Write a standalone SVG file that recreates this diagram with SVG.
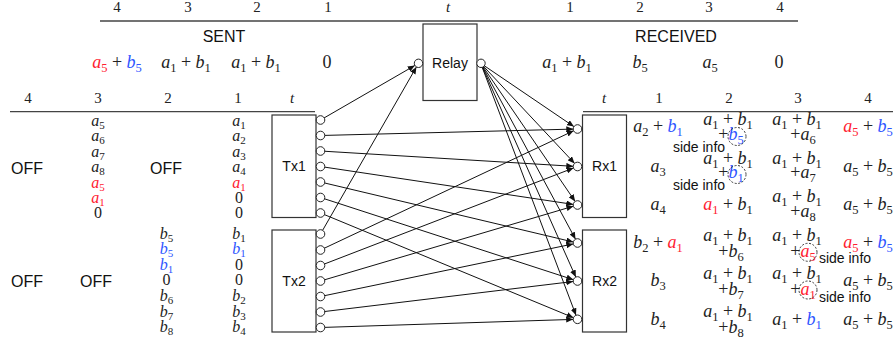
<svg xmlns="http://www.w3.org/2000/svg" width="896" height="345" viewBox="0 0 896 345">
<style>
.m{font-family:"Liberation Serif",serif;font-size:18px;fill:#222;text-anchor:middle}
.ml{font-family:"Liberation Serif",serif;font-size:16px;fill:#222;text-anchor:middle}
.h{font-family:"Liberation Serif",serif;font-size:15px;fill:#222;text-anchor:middle}
.i{font-style:italic}
.s{font-size:12.5px;font-style:normal}
.sl{font-size:11px;font-style:normal}
.r{fill:#ff2030}
.b{fill:#2d55ff}
.lbl{font-family:"Liberation Sans",sans-serif;font-size:14px;fill:#111;text-anchor:middle}
.big{font-family:"Liberation Sans",sans-serif;font-size:16px;fill:#111;text-anchor:middle}
.box{fill:#fff;stroke:#333;stroke-width:1.2}
.port{fill:#fff;stroke:#222;stroke-width:1}
.rule{stroke:#444;stroke-width:1.3}
.con{stroke:#111;stroke-width:1;fill:none;marker-end:url(#arr)}
.dc{fill:none;stroke:#222;stroke-width:0.9;stroke-dasharray:2 1.6}
</style>
<defs>
<marker id="arr" markerUnits="userSpaceOnUse" markerWidth="7" markerHeight="6" refX="7" refY="3" orient="auto">
<path d="M0,0 L7,3 L0,6 z" fill="#111"/>
</marker>
</defs>

<!-- rules -->
<line class="rule" x1="100" y1="21" x2="798" y2="21"/>
<line class="rule" x1="10" y1="111.7" x2="315" y2="111.7"/>
<line class="rule" x1="583" y1="111.7" x2="893" y2="111.7"/>

<!-- top header -->
<g id="header-top">
<text class="h" x="117" y="12">4</text>
<text class="h" x="188" y="12">3</text>
<text class="h" x="257" y="12">2</text>
<text class="h" x="328" y="12">1</text>
<text class="h i" x="448" y="12">t</text>
<text class="h" x="570" y="12">1</text>
<text class="h" x="640" y="12">2</text>
<text class="h" x="709" y="12">3</text>
<text class="h" x="780" y="12">4</text>
</g>
<g id="header-2">
<text class="h" x="28" y="103">4</text>
<text class="h" x="98" y="103">3</text>
<text class="h" x="168" y="103">2</text>
<text class="h" x="238" y="103">1</text>
<text class="h i" x="292" y="103">t</text>
<text class="h i" x="604" y="103">t</text>
<text class="h" x="659" y="103">1</text>
<text class="h" x="729" y="103">2</text>
<text class="h" x="798" y="103">3</text>
<text class="h" x="868" y="103">4</text>
</g>

<g id="sent">
<text class="big" x="224" y="42">SENT</text>
<text class="m" x="117" y="67.5"><tspan class="i r">a</tspan><tspan class="s r" dy="4">5</tspan><tspan dy="-4"> + </tspan><tspan class="i b">b</tspan><tspan class="s b" dy="4">5</tspan></text>
<text class="m" x="186" y="67.5"><tspan class="i">a</tspan><tspan class="s" dy="4">1</tspan><tspan dy="-4"> + </tspan><tspan class="i">b</tspan><tspan class="s" dy="4">1</tspan></text>
<text class="m" x="256" y="67.5"><tspan class="i">a</tspan><tspan class="s" dy="4">1</tspan><tspan dy="-4"> + </tspan><tspan class="i">b</tspan><tspan class="s" dy="4">1</tspan></text>
<text class="m" x="327" y="67.5">0</text>
</g>
<g id="received">
<text class="big" x="676" y="42">RECEIVED</text>
<text class="m" x="567" y="67.5"><tspan class="i">a</tspan><tspan class="s" dy="4">1</tspan><tspan dy="-4"> + </tspan><tspan class="i">b</tspan><tspan class="s" dy="4">1</tspan></text>
<text class="m" x="640" y="67.5"><tspan class="i">b</tspan><tspan class="s" dy="4">5</tspan></text>
<text class="m" x="710" y="67.5"><tspan class="i">a</tspan><tspan class="s" dy="4">5</tspan></text>
<text class="m" x="779" y="67.5">0</text>
</g>

<!-- left lists Tx1 -->
<g id="tx1-list">
<text class="big" x="27" y="174">OFF</text>
<text class="big" x="166" y="174">OFF</text>
<text class="ml" x="98" y="126"><tspan class="i">a</tspan><tspan class="sl" dy="3">5</tspan></text>
<text class="ml" x="98" y="141.4"><tspan class="i">a</tspan><tspan class="sl" dy="3">6</tspan></text>
<text class="ml" x="98" y="156.8"><tspan class="i">a</tspan><tspan class="sl" dy="3">7</tspan></text>
<text class="ml" x="98" y="172.2"><tspan class="i">a</tspan><tspan class="sl" dy="3">8</tspan></text>
<text class="ml" x="98" y="187.6"><tspan class="i r">a</tspan><tspan class="sl r" dy="3">5</tspan></text>
<text class="ml" x="98" y="203"><tspan class="i r">a</tspan><tspan class="sl r" dy="3">1</tspan></text>
<text class="ml" x="98" y="218.4">0</text>
<text class="ml" x="239" y="126"><tspan class="i">a</tspan><tspan class="sl" dy="3">1</tspan></text>
<text class="ml" x="239" y="141.4"><tspan class="i">a</tspan><tspan class="sl" dy="3">2</tspan></text>
<text class="ml" x="239" y="156.8"><tspan class="i">a</tspan><tspan class="sl" dy="3">3</tspan></text>
<text class="ml" x="239" y="172.2"><tspan class="i">a</tspan><tspan class="sl" dy="3">4</tspan></text>
<text class="ml" x="239" y="187.6"><tspan class="i r">a</tspan><tspan class="sl r" dy="3">1</tspan></text>
<text class="ml" x="239" y="203">0</text>
<text class="ml" x="239" y="218.4">0</text>
</g>
<g id="tx2-list">
<text class="big" x="27" y="287.3">OFF</text>
<text class="big" x="96" y="287.3">OFF</text>
<text class="ml" x="166.5" y="238.5"><tspan class="i">b</tspan><tspan class="sl" dy="3">5</tspan></text>
<text class="ml" x="166.5" y="254.1"><tspan class="i b">b</tspan><tspan class="sl b" dy="3">5</tspan></text>
<text class="ml" x="166.5" y="269.7"><tspan class="i b">b</tspan><tspan class="sl b" dy="3">1</tspan></text>
<text class="ml" x="166.5" y="285.3">0</text>
<text class="ml" x="166.5" y="300.9"><tspan class="i">b</tspan><tspan class="sl" dy="3">6</tspan></text>
<text class="ml" x="166.5" y="316.5"><tspan class="i">b</tspan><tspan class="sl" dy="3">7</tspan></text>
<text class="ml" x="166.5" y="332.1"><tspan class="i">b</tspan><tspan class="sl" dy="3">8</tspan></text>
<text class="ml" x="239" y="238.5"><tspan class="i">b</tspan><tspan class="sl" dy="3">1</tspan></text>
<text class="ml" x="239" y="254.1"><tspan class="i b">b</tspan><tspan class="sl b" dy="3">1</tspan></text>
<text class="ml" x="239" y="269.7">0</text>
<text class="ml" x="239" y="285.3">0</text>
<text class="ml" x="239" y="300.9"><tspan class="i">b</tspan><tspan class="sl" dy="3">2</tspan></text>
<text class="ml" x="239" y="316.5"><tspan class="i">b</tspan><tspan class="sl" dy="3">3</tspan></text>
<text class="ml" x="239" y="332.1"><tspan class="i">b</tspan><tspan class="sl" dy="3">4</tspan></text>
</g>

<!-- connectors -->
<g id="connectors">
<path class="con" d="M320.5,120 L414.8,65.5"/>
<path class="con" d="M320.5,234 L416.4,67"/>
<path class="con" d="M480.7,63.3 L573.9,126.6"/>
<path class="con" d="M480.7,63.3 L574.6,163.4"/>
<path class="con" d="M480.7,63.3 L575.1,201.4"/>
<path class="con" d="M480.7,63.3 L575.5,239.2"/>
<path class="con" d="M480.7,63.3 L575.8,277.1"/>
<path class="con" d="M480.7,63.3 L576,315.3"/>
<path class="con" d="M320.5,135.5 L573.3,129.1"/>
<path class="con" d="M320.5,151 L573.3,166.3"/>
<path class="con" d="M320.5,166.5 L573.25,204.4"/>
<path class="con" d="M320.5,182 L573.3,242"/>
<path class="con" d="M320.5,197.5 L573.4,279.7"/>
<path class="con" d="M320.5,213 L573.5,317.7"/>
<path class="con" d="M320.5,250 L573.6,130.8"/>
<path class="con" d="M320.5,265.5 L573.5,168"/>
<path class="con" d="M320.5,281 L573.4,206.2"/>
<path class="con" d="M320.5,296.5 L573.3,243.9"/>
<path class="con" d="M320.5,312 L573.2,281.5"/>
<path class="con" d="M320.5,327.5 L573.2,319.4"/>
</g>

<!-- nodes -->
<g id="relay">
<rect class="box" x="423" y="24" width="54" height="76.5"/>
<text class="lbl" x="450" y="68">Relay</text>
<circle class="port" cx="418.5" cy="63.3" r="4.2"/>
<circle class="port" cx="481" cy="63.3" r="4.2"/>
</g>
<g id="tx1">
<rect class="box" x="272" y="115" width="44" height="102.5"/>
<text class="lbl" x="294" y="171">Tx1</text>
<circle class="port" cx="320.5" cy="120" r="4.3"/>
<circle class="port" cx="320.5" cy="135.5" r="4.3"/>
<circle class="port" cx="320.5" cy="151" r="4.3"/>
<circle class="port" cx="320.5" cy="166.5" r="4.3"/>
<circle class="port" cx="320.5" cy="182" r="4.3"/>
<circle class="port" cx="320.5" cy="197.5" r="4.3"/>
<circle class="port" cx="320.5" cy="213" r="4.3"/>
</g>
<g id="tx2">
<rect class="box" x="272" y="230" width="44" height="102"/>
<text class="lbl" x="294" y="286">Tx2</text>
<circle class="port" cx="320.5" cy="234" r="4.3"/>
<circle class="port" cx="320.5" cy="250" r="4.3"/>
<circle class="port" cx="320.5" cy="265.5" r="4.3"/>
<circle class="port" cx="320.5" cy="281" r="4.3"/>
<circle class="port" cx="320.5" cy="296.5" r="4.3"/>
<circle class="port" cx="320.5" cy="312" r="4.3"/>
<circle class="port" cx="320.5" cy="327.5" r="4.3"/>
</g>
<g id="rx1">
<rect class="box" x="582.5" y="115" width="44" height="102.5"/>
<text class="lbl" x="604.5" y="171">Rx1</text>
<circle class="port" cx="577.5" cy="129" r="4.3"/>
<circle class="port" cx="577.5" cy="166.5" r="4.3"/>
<circle class="port" cx="577.5" cy="205" r="4.3"/>
</g>
<g id="rx2">
<rect class="box" x="582.5" y="230" width="44" height="102"/>
<text class="lbl" x="604.5" y="286">Rx2</text>
<circle class="port" cx="577.5" cy="243" r="4.3"/>
<circle class="port" cx="577.5" cy="281" r="4.3"/>
<circle class="port" cx="577.5" cy="319.3" r="4.3"/>
</g>

<!-- Rx1 table -->
<g id="rx1-table">
<text class="m" x="658" y="131.5"><tspan class="i">a</tspan><tspan class="s" dy="4">2</tspan><tspan dy="-4"> + </tspan><tspan class="i b">b</tspan><tspan class="s b" dy="4">1</tspan></text>
<text class="m" x="728" y="125"><tspan class="i">a</tspan><tspan class="s" dy="4">1</tspan><tspan dy="-4"> + </tspan><tspan class="i">b</tspan><tspan class="s" dy="4">1</tspan></text>
<text class="m" x="731" y="140"><tspan>+</tspan><tspan class="i b">b</tspan><tspan class="s b" dy="4">5</tspan></text>
<circle class="dc" cx="737" cy="136.5" r="9"/>
<text class="lbl" x="699" y="152">side info</text>
<text class="m" x="797" y="125"><tspan class="i">a</tspan><tspan class="s" dy="4">1</tspan><tspan dy="-4"> + </tspan><tspan class="i">b</tspan><tspan class="s" dy="4">1</tspan></text>
<text class="m" x="803" y="140"><tspan>+</tspan><tspan class="i">a</tspan><tspan class="s" dy="4">6</tspan></text>
<text class="m" x="868" y="131.5"><tspan class="i r">a</tspan><tspan class="s r" dy="4">5</tspan><tspan dy="-4"> + </tspan><tspan class="i b">b</tspan><tspan class="s b" dy="4">5</tspan></text>

<text class="m" x="658" y="171.5"><tspan class="i">a</tspan><tspan class="s" dy="4">3</tspan></text>
<text class="m" x="728" y="163.5"><tspan class="i">a</tspan><tspan class="s" dy="4">1</tspan><tspan dy="-4"> + </tspan><tspan class="i">b</tspan><tspan class="s" dy="4">1</tspan></text>
<text class="m" x="731" y="178"><tspan>+</tspan><tspan class="i b">b</tspan><tspan class="s b" dy="4">1</tspan></text>
<circle class="dc" cx="737" cy="174.5" r="9"/>
<text class="lbl" x="699" y="190">side info</text>
<text class="m" x="797" y="163.5"><tspan class="i">a</tspan><tspan class="s" dy="4">1</tspan><tspan dy="-4"> + </tspan><tspan class="i">b</tspan><tspan class="s" dy="4">1</tspan></text>
<text class="m" x="803" y="178"><tspan>+</tspan><tspan class="i">a</tspan><tspan class="s" dy="4">7</tspan></text>
<text class="m" x="868" y="171.5"><tspan class="i">a</tspan><tspan class="s" dy="4">5</tspan><tspan dy="-4"> + </tspan><tspan class="i">b</tspan><tspan class="s" dy="4">5</tspan></text>

<text class="m" x="658" y="210"><tspan class="i">a</tspan><tspan class="s" dy="4">4</tspan></text>
<text class="m" x="728" y="210"><tspan class="i r">a</tspan><tspan class="s r" dy="4">1</tspan><tspan dy="-4"> + </tspan><tspan class="i">b</tspan><tspan class="s" dy="4">1</tspan></text>
<text class="m" x="797" y="201.7"><tspan class="i">a</tspan><tspan class="s" dy="4">1</tspan><tspan dy="-4"> + </tspan><tspan class="i">b</tspan><tspan class="s" dy="4">1</tspan></text>
<text class="m" x="803" y="216.5"><tspan>+</tspan><tspan class="i">a</tspan><tspan class="s" dy="4">8</tspan></text>
<text class="m" x="868" y="210"><tspan class="i">a</tspan><tspan class="s" dy="4">5</tspan><tspan dy="-4"> + </tspan><tspan class="i">b</tspan><tspan class="s" dy="4">5</tspan></text>
</g>

<!-- Rx2 table -->
<g id="rx2-table">
<text class="m" x="658" y="248"><tspan class="i">b</tspan><tspan class="s" dy="4">2</tspan><tspan dy="-4"> + </tspan><tspan class="i r">a</tspan><tspan class="s r" dy="4">1</tspan></text>
<text class="m" x="728" y="240.5"><tspan class="i">a</tspan><tspan class="s" dy="4">1</tspan><tspan dy="-4"> + </tspan><tspan class="i">b</tspan><tspan class="s" dy="4">1</tspan></text>
<text class="m" x="731" y="256.5"><tspan>+</tspan><tspan class="i">b</tspan><tspan class="s" dy="4">6</tspan></text>
<text class="m" x="797" y="240.5"><tspan class="i">a</tspan><tspan class="s" dy="4">1</tspan><tspan dy="-4"> + </tspan><tspan class="i">b</tspan><tspan class="s" dy="4">1</tspan></text>
<text class="m" x="803" y="256.5"><tspan>+</tspan><tspan class="i r">a</tspan><tspan class="s r" dy="4">5</tspan></text>
<circle class="dc" cx="808" cy="252.3" r="9"/>
<text class="lbl" x="845" y="262.7">side info</text>
<text class="m" x="868" y="248"><tspan class="i r">a</tspan><tspan class="s r" dy="4">5</tspan><tspan dy="-4"> + </tspan><tspan class="i b">b</tspan><tspan class="s b" dy="4">5</tspan></text>

<text class="m" x="658" y="285.7"><tspan class="i">b</tspan><tspan class="s" dy="4">3</tspan></text>
<text class="m" x="728" y="279.3"><tspan class="i">a</tspan><tspan class="s" dy="4">1</tspan><tspan dy="-4"> + </tspan><tspan class="i">b</tspan><tspan class="s" dy="4">1</tspan></text>
<text class="m" x="731" y="295"><tspan>+</tspan><tspan class="i">b</tspan><tspan class="s" dy="4">7</tspan></text>
<text class="m" x="797" y="279.3"><tspan class="i">a</tspan><tspan class="s" dy="4">1</tspan><tspan dy="-4"> + </tspan><tspan class="i">b</tspan><tspan class="s" dy="4">1</tspan></text>
<text class="m" x="803" y="295"><tspan>+</tspan><tspan class="i r">a</tspan><tspan class="s r" dy="4">1</tspan></text>
<circle class="dc" cx="808" cy="290" r="9"/>
<text class="lbl" x="845" y="301.7">side info</text>
<text class="m" x="868" y="285.7"><tspan class="i">a</tspan><tspan class="s" dy="4">5</tspan><tspan dy="-4"> + </tspan><tspan class="i">b</tspan><tspan class="s" dy="4">5</tspan></text>

<text class="m" x="658" y="325"><tspan class="i">b</tspan><tspan class="s" dy="4">4</tspan></text>
<text class="m" x="728" y="317.3"><tspan class="i">a</tspan><tspan class="s" dy="4">1</tspan><tspan dy="-4"> + </tspan><tspan class="i">b</tspan><tspan class="s" dy="4">1</tspan></text>
<text class="m" x="731" y="333.3"><tspan>+</tspan><tspan class="i">b</tspan><tspan class="s" dy="4">8</tspan></text>
<text class="m" x="797" y="325"><tspan class="i">a</tspan><tspan class="s" dy="4">1</tspan><tspan dy="-4"> + </tspan><tspan class="i b">b</tspan><tspan class="s b" dy="4">1</tspan></text>
<text class="m" x="868" y="325"><tspan class="i">a</tspan><tspan class="s" dy="4">5</tspan><tspan dy="-4"> + </tspan><tspan class="i">b</tspan><tspan class="s" dy="4">5</tspan></text>
</g>
</svg>
